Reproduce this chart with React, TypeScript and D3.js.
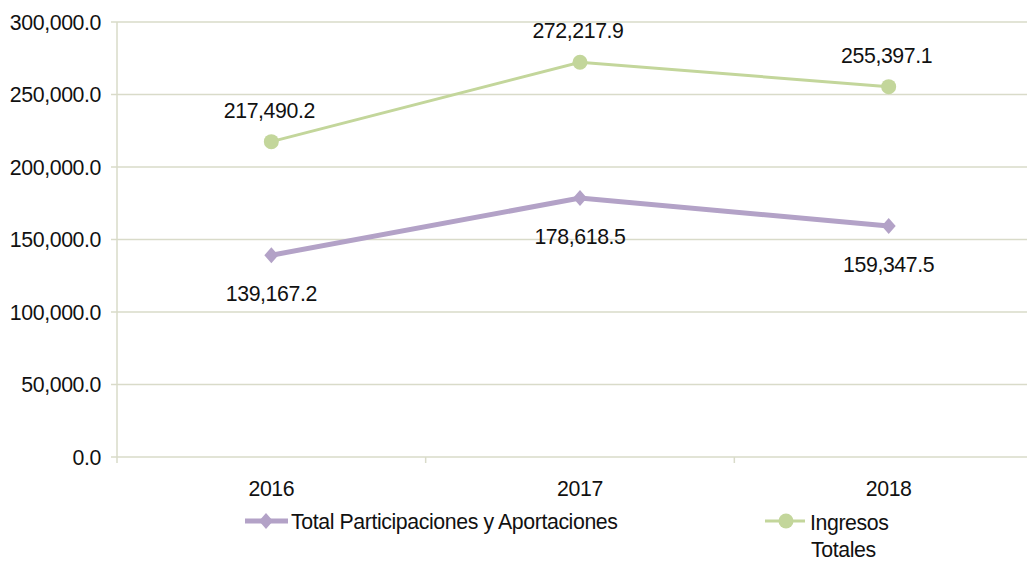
import * as d3 from 'd3';
import React, { useRef, useEffect } from 'react';

const years = ['2016', '2017', '2018'];
const participaciones = [139167.2, 178618.5, 159347.5];
const ingresos = [217490.2, 272217.9, 255397.1];
const yTicks = [0, 50000, 100000, 150000, 200000, 250000, 300000];

const W = 1027;
const H = 562;

function App() {
    const ref = useRef<SVGSVGElement>(null);

    useEffect(() => {
        const svg = d3.select(ref.current);
        svg.selectAll('*').remove();

        const margin = { top: 22, left: 117, bottom: 105 };
        const plotRight = 1043;
        const font = '"Liberation Sans", Arial, sans-serif';
        const fs = 21.3;
        const ls = -0.4;
        const gridColor = '#d9dbc9';

        const x = d3.scaleBand<string>()
            .domain(years)
            .range([margin.left, plotRight]);

        const y = d3.scaleLinear()
            .domain([0, 300000])
            .range([H - margin.bottom, margin.top]);

        const fmt = d3.format(',.1f');

        // grid + y labels
        const yg = svg.append('g');
        yg.selectAll('line')
            .data(yTicks)
            .join('line')
            .attr('x1', margin.left - 6)
            .attr('x2', plotRight)
            .attr('y1', d => y(d))
            .attr('y2', d => y(d))
            .attr('stroke', gridColor)
            .attr('stroke-width', 1.5);
        yg.selectAll('text')
            .data(yTicks)
            .join('text')
            .attr('x', margin.left - 16)
            .attr('y', d => y(d))
            .attr('dy', '0.36em')
            .attr('text-anchor', 'end')
            .attr('font-family', font)
            .attr('font-size', fs)
            .attr('letter-spacing', ls)
            .attr('fill', '#111')
            .text(d => fmt(d));

        // y axis line
        svg.append('line')
            .attr('x1', margin.left).attr('x2', margin.left)
            .attr('y1', y(300000)).attr('y2', y(0) + 6)
            .attr('stroke', gridColor).attr('stroke-width', 1.5);

        // x ticks between categories
        svg.append('g').selectAll('line')
            .data(years.slice(1))
            .join('line')
            .attr('x1', d => x(d)!).attr('x2', d => x(d)!)
            .attr('y1', y(0)).attr('y2', y(0) + 6)
            .attr('stroke', gridColor).attr('stroke-width', 1.5);

        svg.append('g').selectAll('text')
            .data(years)
            .join('text')
            .attr('x', d => x(d)! + x.bandwidth() / 2)
            .attr('y', y(0) + 39)
            .attr('text-anchor', 'middle')
            .attr('font-family', font)
            .attr('font-size', fs)
            .attr('letter-spacing', ls)
            .attr('fill', '#111')
            .text(d => d);

        const cx = (i: number) => x(years[i])! + x.bandwidth() / 2;
        const line = d3.line<number>()
            .x((_, i) => cx(i))
            .y(d => y(d));

        const green = '#c3d69b';
        const purple = '#b3a2c7';

        // Ingresos Totales
        svg.append('path')
            .datum(ingresos)
            .attr('d', line)
            .attr('fill', 'none')
            .attr('stroke', green)
            .attr('stroke-width', 3);
        svg.append('g').selectAll('circle')
            .data(ingresos)
            .join('circle')
            .attr('cx', (_, i) => cx(i))
            .attr('cy', d => y(d))
            .attr('r', 7.5)
            .attr('fill', green);

        // Total Participaciones
        svg.append('path')
            .datum(participaciones)
            .attr('d', line)
            .attr('fill', 'none')
            .attr('stroke', purple)
            .attr('stroke-width', 5);
        const diamond = 'M0,-8L7,0L0,8L-7,0Z';
        svg.append('g').selectAll('path')
            .data(participaciones)
            .join('path')
            .attr('transform', (d, i) => `translate(${cx(i)},${y(d)})`)
            .attr('d', diamond)
            .attr('fill', purple);

        // data labels
        svg.append('g').selectAll('text')
            .data(ingresos)
            .join('text')
            .attr('x', (_, i) => cx(i) - 2)
            .attr('y', d => y(d) - 24)
            .attr('text-anchor', 'middle')
            .attr('font-family', font)
            .attr('font-size', fs)
            .attr('letter-spacing', ls)
            .attr('fill', '#111')
            .text(d => fmt(d));
        svg.append('g').selectAll('text')
            .data(participaciones)
            .join('text')
            .attr('x', (_, i) => cx(i))
            .attr('y', d => y(d) + 46)
            .attr('text-anchor', 'middle')
            .attr('font-family', font)
            .attr('font-size', fs)
            .attr('letter-spacing', ls)
            .attr('fill', '#111')
            .text(d => fmt(d));

        // legend
        const lg1 = svg.append('g').attr('transform', 'translate(245,521)');
        lg1.append('line').attr('x1', 0).attr('x2', 43)
            .attr('stroke', purple).attr('stroke-width', 5);
        lg1.append('path').attr('d', diamond).attr('transform', 'translate(21,0)')
            .attr('fill', purple);
        lg1.append('text').attr('x', 46).attr('y', 8)
            .attr('font-family', font).attr('font-size', fs)
            .attr('letter-spacing', ls).attr('fill', '#111')
            .text('Total Participaciones y Aportaciones');

        const lg2 = svg.append('g').attr('transform', 'translate(765,521)');
        lg2.append('line').attr('x1', 0).attr('x2', 40)
            .attr('stroke', green).attr('stroke-width', 3);
        lg2.append('circle').attr('cx', 21).attr('r', 7.5).attr('fill', green);
        lg2.append('text').attr('x', 45).attr('y', 9)
            .attr('font-family', font).attr('font-size', fs)
            .attr('letter-spacing', ls).attr('fill', '#111')
            .text('Ingresos');
        lg2.append('text').attr('x', 46).attr('y', 36)
            .attr('font-family', font).attr('font-size', fs)
            .attr('letter-spacing', ls).attr('fill', '#111')
            .text('Totales');
    }, []);

    return (
        <svg
            ref={ref}
            width={W}
            height={H}
            style={{ position: 'absolute', left: 0, top: 0, background: '#fff' }}
        />
    );
}

export default App;
